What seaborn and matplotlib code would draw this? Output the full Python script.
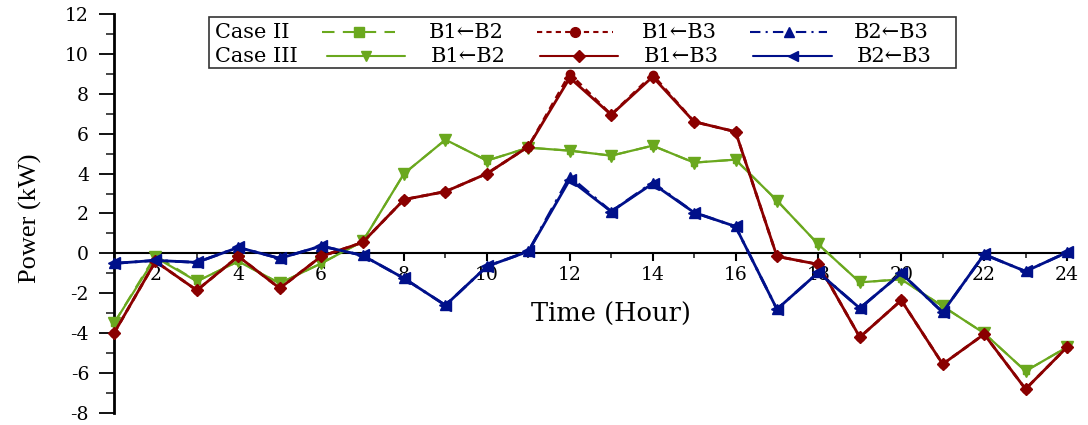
import numpy as np
import pandas as pd
import matplotlib
matplotlib.use("Agg")
import matplotlib.pyplot as plt
from matplotlib.lines import Line2D
from matplotlib.patches import Rectangle
from matplotlib.ticker import MultipleLocator
import seaborn as sns

# ---------------- data ----------------
hours = list(range(1, 25))

case2_b1_b2 = [-3.5, -0.1, -1.4, -0.4, -1.5, -0.5, 0.6, 4.0, 5.7, 4.65, 5.3, 5.15,
               4.9, 5.4, 4.55, 4.7, 2.65, 0.45, -1.45, -1.3, -2.65, -4.0, -5.9, -4.7]
case2_b1_b3 = [-4.0, -0.4, -1.85, -0.15, -1.75, -0.15, 0.55, 2.7, 3.1, 4.0, 5.35, 9.0,
               6.95, 8.95, 6.6, 6.1, -0.15, -0.55, -4.2, -2.35, -5.55, -4.05, -6.8, -4.7]
case2_b2_b3 = [-0.5, -0.35, -0.45, 0.3, -0.25, 0.37, -0.1, -1.25, -2.6, -0.65, 0.1, 3.85,
               2.1, 3.55, 2.05, 1.35, -2.8, -0.95, -2.75, -1.0, -2.95, -0.05, -0.9, 0.05]

case3_b1_b2 = [-3.5, -0.2, -1.4, -0.4, -1.5, -0.5, 0.6, 4.0, 5.7, 4.65, 5.3, 5.15,
               4.9, 5.4, 4.55, 4.7, 2.65, 0.45, -1.45, -1.3, -2.65, -4.0, -5.9, -4.7]
case3_b1_b3 = [-4.0, -0.4, -1.85, -0.15, -1.75, -0.15, 0.55, 2.7, 3.1, 4.0, 5.35, 8.8,
               6.95, 8.85, 6.6, 6.1, -0.15, -0.55, -4.2, -2.35, -5.55, -4.05, -6.8, -4.7]
case3_b2_b3 = [-0.5, -0.35, -0.45, 0.3, -0.25, 0.37, -0.1, -1.25, -2.6, -0.65, 0.1, 3.7,
               2.1, 3.5, 2.05, 1.35, -2.8, -0.95, -2.75, -1.0, -2.95, -0.05, -0.9, 0.05]

series_labels = ["B1\u2190B2", "B1\u2190B3", "B2\u2190B3"]
case_labels = ["Case II", "Case III"]
x_ticks = list(range(2, 25, 2))
y_ticks = list(range(-8, 13, 2))

df = pd.DataFrame({
    "hour": hours,
    "c2_12": case2_b1_b2, "c2_13": case2_b1_b3, "c2_23": case2_b2_b3,
    "c3_12": case3_b1_b2, "c3_13": case3_b1_b3, "c3_23": case3_b2_b3,
})

# ---------------- style ----------------
sns.set_style("ticks")
plt.rcParams["font.family"] = ["DejaVu Serif", "DejaVu Sans"]
plt.rcParams["axes.unicode_minus"] = False

GREEN = "#6aa81e"
RED = "#8a0000"
BLUE = "#00108a"

styles = {
    "c2_12": dict(color=GREEN, ls=(0, (6, 4)), marker="s", lw=1.5, ms=5, lms=6.5),
    "c2_13": dict(color=RED, ls=(0, (2.5, 2)), marker="o", lw=2.0, ms=6, lms=7),
    "c2_23": dict(color=BLUE, ls=(0, (5, 2.5, 1, 2.5)), marker="^", lw=2.0, ms=6.5, lms=7.5),
    "c3_12": dict(color=GREEN, ls="-", marker="v", lw=1.6, ms=8.5, lms=7.5),
    "c3_13": dict(color=RED, ls="-", marker="D", lw=2.0, ms=6.5, lms=6),
    "c3_23": dict(color=BLUE, ls="-", marker="<", lw=2.0, ms=8, lms=7.5),
}

fig = plt.figure(figsize=(10.88, 4.25), dpi=100)
ax = fig.add_axes([114 / 1088, 1 - 413 / 425, (1067 - 114) / 1088, (413 - 14) / 425])

for key in ["c2_12", "c2_13", "c2_23", "c3_12", "c3_13", "c3_23"]:
    st = styles[key]
    sns.lineplot(data=df, x="hour", y=key, ax=ax, color=st["color"], linestyle=st["ls"],
                 linewidth=st["lw"], marker=st["marker"], markersize=st["ms"],
                 markeredgecolor=st["color"], markeredgewidth=1, errorbar=None,
                 legend=False, clip_on=False, zorder=3)

ax.set_xlim(1, 24)
ax.set_ylim(-8, 12)
ax.spines["top"].set_visible(False)
ax.spines["right"].set_visible(False)
ax.spines["bottom"].set_position(("data", 0))
ax.spines["left"].set_linewidth(2.0)
ax.spines["bottom"].set_linewidth(1.5)
ax.spines["left"].set_color("black")
ax.spines["bottom"].set_color("black")

ax.set_xticks(x_ticks)
ax.set_xticklabels([str(t) for t in x_ticks])
ax.xaxis.set_minor_locator(MultipleLocator(1))
ax.set_yticks(y_ticks)
ax.set_yticklabels([str(t) for t in y_ticks])
ax.yaxis.set_minor_locator(MultipleLocator(1))

ax.tick_params(axis="y", which="major", direction="out", length=11, width=1.3,
               pad=7, labelsize=13.5, colors="black")
ax.tick_params(axis="y", which="minor", direction="out", length=5.5, width=1.2)
ax.tick_params(axis="x", which="major", direction="out", length=6, width=1.5,
               pad=3, labelsize=13.5, colors="black")
ax.tick_params(axis="x", which="minor", direction="out", length=3.5, width=1.2)

ax.set_xlabel("Time (Hour)", fontsize=18.5, color="black")
ax.xaxis.set_label_coords((611 - 114) / 953, (413 - 302) / 399)
ax.set_ylabel("Power (kW)", fontsize=19, color="black", family="Liberation Serif")
ax.yaxis.set_label_coords((42 - 114) / 953, (413 - 218) / 399)

# ---------------- legend (two rows: Case II / Case III) ----------------
W, H = 1088.0, 425.0
fig.add_artist(Rectangle((209 / W, 1 - 68 / H), (956 - 209) / W, (68 - 17) / H,
                         transform=fig.transFigure, fill=False, edgecolor="#333333",
                         linewidth=1.2))

rows = [
    (32, case_labels[0], ["c2_12", "c2_13", "c2_23"],
     [(322, 395), (537, 613), (750, 827)], [466, 679, 891]),
    (56, case_labels[1], ["c3_12", "c3_13", "c3_23"],
     [(327, 405), (540, 618), (753, 832)], [468, 681, 894]),
]
for ypix, clabel, keys, spans, centers in rows:
    yf = 1 - ypix / H
    fig.text(215 / W, yf, clabel, ha="left", va="center", fontsize=15, color="black")
    for key, (x0, x1), xc, lab in zip(keys, spans, centers, series_labels):
        st = styles[key]
        xm = (x0 + x1) / 2
        fig.add_artist(Line2D([x0 / W, xm / W, x1 / W], [yf, yf, yf],
                              transform=fig.transFigure, color=st["color"],
                              linestyle=st["ls"], linewidth=1.5, marker=st["marker"],
                              markevery=[1], markersize=st["lms"],
                              markeredgecolor=st["color"]))
        fig.text(xc / W, yf, lab, ha="center", va="center", fontsize=15, color="black")

fig.savefig("out.png", dpi=100)
